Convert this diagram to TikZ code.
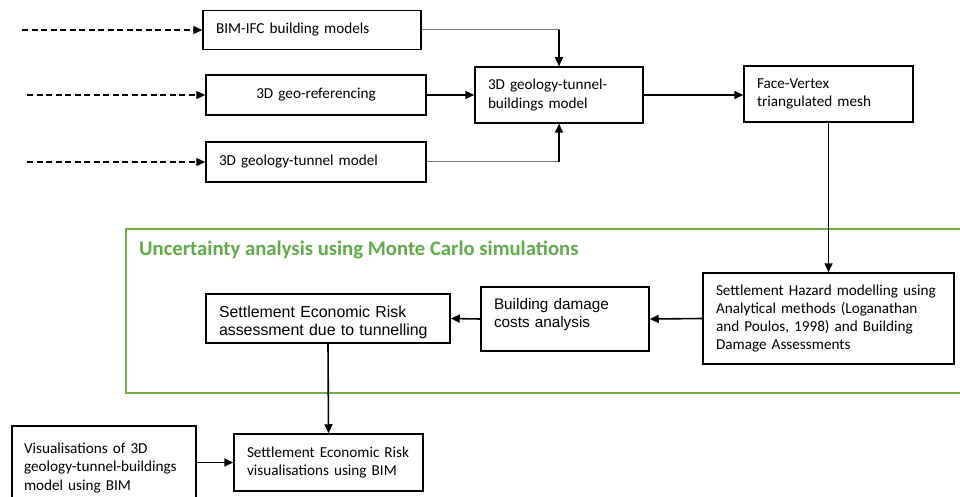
\documentclass[tikz,border=0pt]{standalone}
\usepackage{fontspec}
\setmainfont{Carlito}
\newfontfamily\arialfont{Liberation Sans}
\usetikzlibrary{arrows.meta}
\definecolor{mcgreen}{RGB}{112,173,71}
\definecolor{titlegreen}{RGB}{96,172,72}
\tikzset{
  box/.style={draw=black, line width=1.5pt, fill=white, inner xsep=13pt, inner ysep=2pt,
              align=left, font=\fontsize{15.2}{18.3}\selectfont},
  abox/.style={box, font=\arialfont\fontsize{15.3}{18.5}\selectfont},
  conn/.style={line width=1.6pt, -{Triangle[length=9pt,width=8pt]}},
  lightconn/.style={line width=1pt, draw=black!55},
  dashconn/.style={line width=1.4pt, dash pattern=on 6pt off 3.5pt, -{Triangle[length=9pt,width=8pt]}}
}
\begin{document}
\begin{tikzpicture}[x=1pt,y=-1pt]
\useasboundingbox (0,0) rectangle (960,497);
\fill[white] (0,0) rectangle (960,497);
% green frame
\draw[mcgreen, line width=1.8pt] (126,229) rectangle (968,393);
\node[anchor=base west, inner sep=0pt, text=titlegreen,
      font=\bfseries\fontsize{20.7}{24}\selectfont] (title) at (139,255)
      {Uncertainty analysis using Monte Carlo simulations};
% boxes
\node[box, minimum width=218pt, minimum height=39pt, text width=192pt] (bim) at (312,30) {BIM-IFC building models};
\node[box, minimum width=220pt, minimum height=40pt, text width=194pt, align=center] (geo) at (316,95) {3D geo-referencing};
\node[box, minimum width=220pt, minimum height=40pt, text width=194pt] (geol) at (316,162) {3D geology-tunnel model};
\node[box, minimum width=168pt, minimum height=56pt, text width=142pt] (gtb) at (559,95) {3D geology-tunnel-\\buildings model};
\node[box, minimum width=169pt, minimum height=56pt, text width=143pt] (fv) at (828.5,94) {Face-Vertex\\triangulated mesh};
\node[box, minimum width=251pt, minimum height=91pt, text width=225pt] (haz) at (828.5,318.5) {Settlement Hazard modelling using\\Analytical methods (Loganathan\\and Poulos, 1998) and Building\\Damage Assessments};
\node[abox, minimum width=168pt, minimum height=64pt, text width=142pt] (bdc) at (565,319) {Building damage\\costs analysis\\[-12pt]\strut};
\node[abox, font=\arialfont\fontsize{15.9}{18.5}\selectfont, minimum width=244pt, minimum height=49pt, text width=218pt] (ser) at (328,318.5) {\rule{0pt}{19pt}Settlement Economic Risk\\assessment due to tunnelling};
\node[box, minimum width=189pt, minimum height=57pt, text width=163pt] (vis) at (328.5,462.5) {Settlement Economic Risk\\visualisations using BIM};
\node[box, minimum width=184pt, minimum height=84pt, text width=160pt, inner xsep=12pt] (left) at (104,468) {Visualisations of 3D\\geology-tunnel-buildings\\model using BIM};
% dashed inputs
\coordinate (d1) at (22,30);
\coordinate (d2) at (27,95);
\coordinate (d3) at (27,162);
\draw[dashconn] (d1) -- (bim.west);
\draw[dashconn] (d2) -- (geo.west);
\draw[dashconn] (d3) -- (geol.west);
% connectors
\draw[lightconn] (bim.east) -| (gtb.north);
\draw[lightconn] (geol.east) -| (gtb.south);
\draw[conn] (gtb.north |- bim.east) -- (gtb.north);
\draw[conn] (gtb.south |- geol.east) -- (gtb.south);
\draw[conn] (geo.east) -- (gtb.west);
\draw[conn] (gtb.east) -- (fv.west |- gtb.east);
\draw[conn] (fv.south) -- (haz.north);
\draw[conn] (haz.west) -- (bdc.east);
\draw[conn] (bdc.west) -- (ser.east);
\draw[conn] (ser.south) -- (vis.north);
\draw[conn] (left.east |- vis.west) -- (vis.west);
\end{tikzpicture}
\end{document}
